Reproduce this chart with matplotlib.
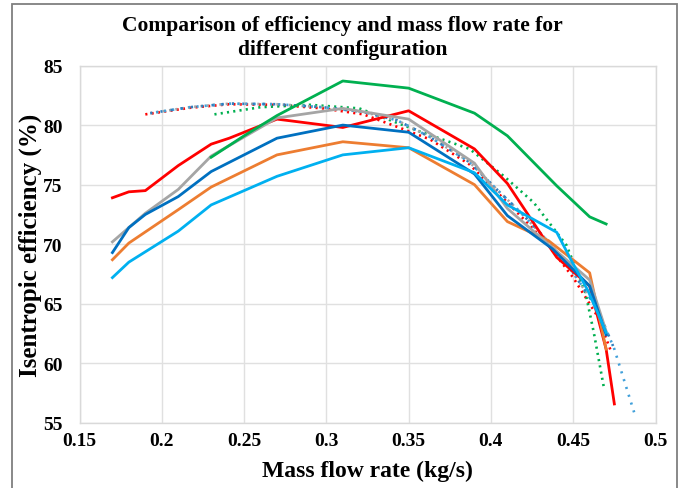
import matplotlib
matplotlib.use("Agg")
import matplotlib.pyplot as plt
from matplotlib.patches import Rectangle

red_x = [0.17, 0.18, 0.19, 0.21, 0.23, 0.241, 0.27, 0.31, 0.35, 0.39, 0.41, 0.435, 0.44, 0.46, 0.47, 0.475]
red_y = [73.9, 74.4, 74.5, 76.6, 78.4, 78.9, 80.5, 79.8, 81.2, 78.0, 75.1, 69.9, 68.9, 66.5, 61.2, 56.6]

orange_x = [0.17, 0.18, 0.21, 0.23, 0.27, 0.31, 0.35, 0.39, 0.41, 0.435, 0.46, 0.47]
orange_y = [68.7, 70.1, 72.9, 74.8, 77.5, 78.6, 78.1, 75.0, 71.9, 70.3, 67.6, 61.2]

gray_x = [0.17, 0.19, 0.21, 0.23, 0.27, 0.31, 0.35, 0.39, 0.41, 0.435, 0.46, 0.47]
gray_y = [70.2, 72.6, 74.6, 77.4, 80.6, 81.4, 80.5, 76.8, 73.0, 70.0, 67.0, 62.7]

blue_x = [0.17, 0.18, 0.19, 0.21, 0.23, 0.27, 0.31, 0.35, 0.39, 0.41, 0.4375, 0.46, 0.47]
blue_y = [69.3, 71.4, 72.5, 74.0, 76.1, 78.9, 80.0, 79.4, 75.9, 72.4, 69.6, 66.5, 62.4]

ltblue_x = [0.17, 0.18, 0.21, 0.23, 0.27, 0.31, 0.35, 0.39, 0.41, 0.44, 0.449, 0.459, 0.47]
ltblue_y = [67.2, 68.5, 71.1, 73.3, 75.7, 77.5, 78.1, 76.0, 73.3, 71.0, 68.6, 66.1, 62.6]

green_x = [0.23, 0.25, 0.27, 0.31, 0.35, 0.39, 0.41, 0.44, 0.46, 0.47]
green_y = [77.3, 79.1, 80.8, 83.7, 83.1, 81.0, 79.1, 74.9, 72.3, 71.7]

# trendlines (dotted), points
trend_x = [0.193, 0.217, 0.241, 0.27, 0.298, 0.3225, 0.343, 0.363, 0.387, 0.4036, 0.42, 0.435, 0.45, 0.465, 0.475, 0.487]
trend_y = [81.0, 81.5, 81.8, 81.75, 81.5, 81.1, 80.4, 79.0, 76.9, 74.6, 72.4, 70.2, 67.6, 64.5, 61.2, 55.9]

red_trend_x = [0.19, 0.217, 0.241, 0.27, 0.298, 0.3225, 0.346, 0.363, 0.387, 0.4036, 0.42, 0.435, 0.45, 0.465, 0.473]
red_trend_y = [80.9, 81.45, 81.75, 81.7, 81.4, 80.9, 79.7, 78.8, 76.7, 74.4, 72.1, 69.9, 67.2, 63.9, 61.0]

green_trend_x = [0.232, 0.26, 0.29, 0.32, 0.356, 0.387, 0.408, 0.426, 0.446, 0.4575, 0.4625, 0.4686]
green_trend_y = [80.9, 81.5, 81.7, 81.4, 79.5, 78.0, 75.7, 73.5, 69.9, 65.9, 62.6, 58.0]

fig = plt.figure(figsize=(6.85, 4.89), dpi=100)
ax = fig.add_axes([79.5 / 685, (489 - 424) / 489, (655.5 - 79.5) / 685, (424 - 66.5) / 489])

dots = (0, (0.8, 1.6))
ax.plot(red_trend_x, red_trend_y, color='#FF0000', lw=1.9, ls=dots, zorder=2)
ax.plot(green_trend_x, green_trend_y, color='#00B050', lw=1.9, ls=dots, zorder=2)
ax.plot(trend_x[:-2], trend_y[:-2], color='#A5A5A5', lw=1.9, ls=dots, zorder=2)
ax.plot(trend_x, trend_y, color='#41A0DA', lw=1.9, ls=(0.9, (0.8, 2.3)), zorder=2)
ax.plot(trend_x[:-1], trend_y[:-1], color='#2F7FC0', lw=1.9, ls=(0.0, (0.8, 3.1)), zorder=2)

ax.plot(red_x, red_y, color='#FF0000', lw=2, zorder=3)
ax.plot(orange_x, orange_y, color='#ED7D31', lw=2, zorder=3)
ax.plot(gray_x, gray_y, color='#A5A5A5', lw=2, zorder=3)
ax.plot(green_x, green_y, color='#00B050', lw=2, zorder=3)
ax.plot(blue_x, blue_y, color='#0070C0', lw=2, zorder=3)
ax.plot(ltblue_x, ltblue_y, color='#00B0F0', lw=2, zorder=3)

ax.set_xlim(0.15, 0.5)
ax.set_ylim(55, 85)
ax.set_xticks([0.15, 0.2, 0.25, 0.3, 0.35, 0.4, 0.45, 0.5])
ax.set_xticklabels(['0.15', '0.2', '0.25', '0.3', '0.35', '0.4', '0.45', '0.5'])
ax.set_yticks([55, 60, 65, 70, 75, 80, 85])
ax.grid(True, color='#E0E0E0', lw=1)
ax.set_axisbelow(True)
for s in ax.spines.values():
    s.set_color('#D9D9D9')
    s.set_linewidth(1)
ax.tick_params(axis='x', length=0, pad=6.5)
ax.tick_params(axis='y', length=0, pad=12)
for lab in ax.get_xticklabels() + ax.get_yticklabels():
    lab.set_fontfamily('Liberation Serif')
    lab.set_fontweight('bold')
    lab.set_fontsize(14)

ax.set_xlabel('Mass flow rate (kg/s)', fontfamily='Liberation Serif', fontweight='bold', fontsize=17, labelpad=8)
ax.set_ylabel('Isentropic efficiency (%)', fontfamily='Liberation Serif', fontweight='bold', fontsize=18, labelpad=1)

fig.text(0.5, 1 - 38 / 489, 'Comparison of efficiency and mass flow rate for\ndifferent configuration',
         ha='center', va='center', fontfamily='Liberation Serif', fontweight='bold', fontsize=15.5, linespacing=1.27)

# chart area border
fig.patches.append(Rectangle((12 / 685, -0.01), (677 - 12) / 685, 1 - 5 / 489 + 0.01,
                             transform=fig.transFigure, fill=False, edgecolor='#7F7F7F', lw=1.3))

fig.savefig('out.png', dpi=100)
